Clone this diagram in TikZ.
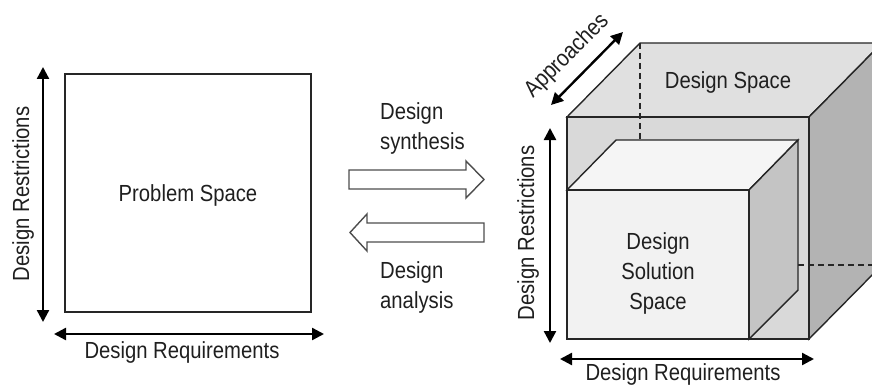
\documentclass[tikz,border=0pt]{standalone}
\usepackage{fontspec}
\setmainfont{Liberation Sans}[FakeStretch=0.87]
\usetikzlibrary{arrows.meta}
\definecolor{edge}{HTML}{262626}
\definecolor{outertop}{HTML}{E0E0E0}
\definecolor{outerfront}{HTML}{D9D9D9}
\definecolor{outerside}{HTML}{B3B3B3}
\definecolor{innerfront}{HTML}{F2F2F2}
\definecolor{innertop}{HTML}{F5F5F5}
\definecolor{innerside}{HTML}{C4C4C4}
\definecolor{blockedge}{HTML}{4D4D4D}
\begin{document}
\begin{tikzpicture}[x=1pt,y=-1pt,
  lbl/.style={font=\fontsize{23.3}{30}\selectfont, text=black!88, inner sep=0pt, align=center},
  lbll/.style={font=\fontsize{23.3}{30}\selectfont, text=black!88, inner sep=0pt, align=left, anchor=west},
  face/.style={draw=edge, line width=1.4pt, line join=miter},
  dimarrow/.style={line width=2.4pt, {Triangle[length=12pt,width=12pt]}-{Triangle[length=12pt,width=12pt]}},
  blockarrow/.style={draw=blockedge, fill=white, line width=1.4pt, line join=miter},
  hidden/.style={draw=edge, line width=1.4pt, dash pattern=on 6pt off 4pt}]
\useasboundingbox (0,0) rectangle (872,385);
\begin{scope}
\clip (0,0) rectangle (872,385);

% ---------- Problem space ----------
\node[draw=edge, line width=1.4pt, minimum width=246pt, minimum height=238pt, inner sep=0pt] (ps) at (188,193) {};
\node[lbl] (pslabel) at (188,195) {Problem Space};
\coordinate (lvt) at (43,67);
\coordinate (lvb) at (43,322);
\draw[dimarrow] (lvt) -- (lvb);
\node[lbl, rotate=90] (lrestr) at (23,194) {Design Restrictions};
\coordinate (lhl) at (54,334);
\coordinate (lhr) at (324,334);
\draw[dimarrow] (lhl) -- (lhr);
\node[lbl] (lreq) at (182,352) {Design Requirements};

% ---------- Block arrows ----------
\draw[blockarrow] (349,170) -- (466,170) -- (466,161) -- (484,179.5) -- (466,198) -- (466,189) -- (349,189) -- cycle;
\node[lbll] (synth) at (380,128) {Design\\synthesis};
\draw[blockarrow] (484,223) -- (367,223) -- (367,214) -- (350,232.5) -- (367,251) -- (367,242) -- (484,242) -- cycle;
\node[lbll] (anal) at (380,287) {Design\\analysis};

% ---------- Design space cube ----------
\coordinate (oftl) at (567,117);
\coordinate (oftr) at (809,117);
\coordinate (ofbr) at (809,339);
\coordinate (ofbl) at (567,339);
\coordinate (obtl) at (640,43);
\coordinate (obtr) at (882,43);
\coordinate (obbr) at (882,265);
\coordinate (obbl) at (640,265);
\filldraw[face, fill=outertop] (oftl) -- (obtl) -- (obtr) -- (oftr) -- cycle;
\filldraw[face, fill=outerside] (oftr) -- (obtr) -- (obbr) -- (ofbr) -- cycle;
\filldraw[face, fill=outerfront] (oftl) -- (oftr) -- (ofbr) -- (ofbl) -- cycle;
\draw[hidden] (obtl) -- (obbl) -- (obbr);

% inner solution box
\coordinate (iftl) at (567,190);
\coordinate (iftr) at (749,190);
\coordinate (ifbr) at (749,339);
\coordinate (ifbl) at (567,339);
\coordinate (ibtl) at (616,140);
\coordinate (ibtr) at (798,140);
\coordinate (ibbr) at (798,290);
\filldraw[face, fill=innertop] (iftl) -- (ibtl) -- (ibtr) -- (iftr) -- cycle;
\filldraw[face, fill=innerside] (iftr) -- (ibtr) -- (ibbr) -- (ifbr) -- cycle;
\filldraw[face, fill=innerfront] (iftl) -- (iftr) -- (ifbr) -- (ifbl) -- cycle;
\draw[face] (oftl) -- (ofbl) -- (ofbr);

\node[lbl] (dspace) at (728,82) {Design Space};
\node[lbl] (dsol) at (658,273) {Design\\Solution\\Space};

% cube dimension arrows
\coordinate (apl) at (551,105);
\coordinate (apr) at (623,32);
\draw[dimarrow] (apl) -- (apr);
\node[lbl, rotate=45] (appr) at (567,56) {Approaches};
\coordinate (rvt) at (550,128);
\coordinate (rvb) at (550,343);
\draw[dimarrow] (rvt) -- (rvb);
\node[lbl, rotate=90] (rrestr) at (528,233) {Design Restrictions};
\coordinate (rhl) at (560,359);
\coordinate (rhr) at (814,359);
\draw[dimarrow] (rhl) -- (rhr);
\node[lbl] (rreq) at (683,374) {Design Requirements};
\end{scope}
\end{tikzpicture}
\end{document}
